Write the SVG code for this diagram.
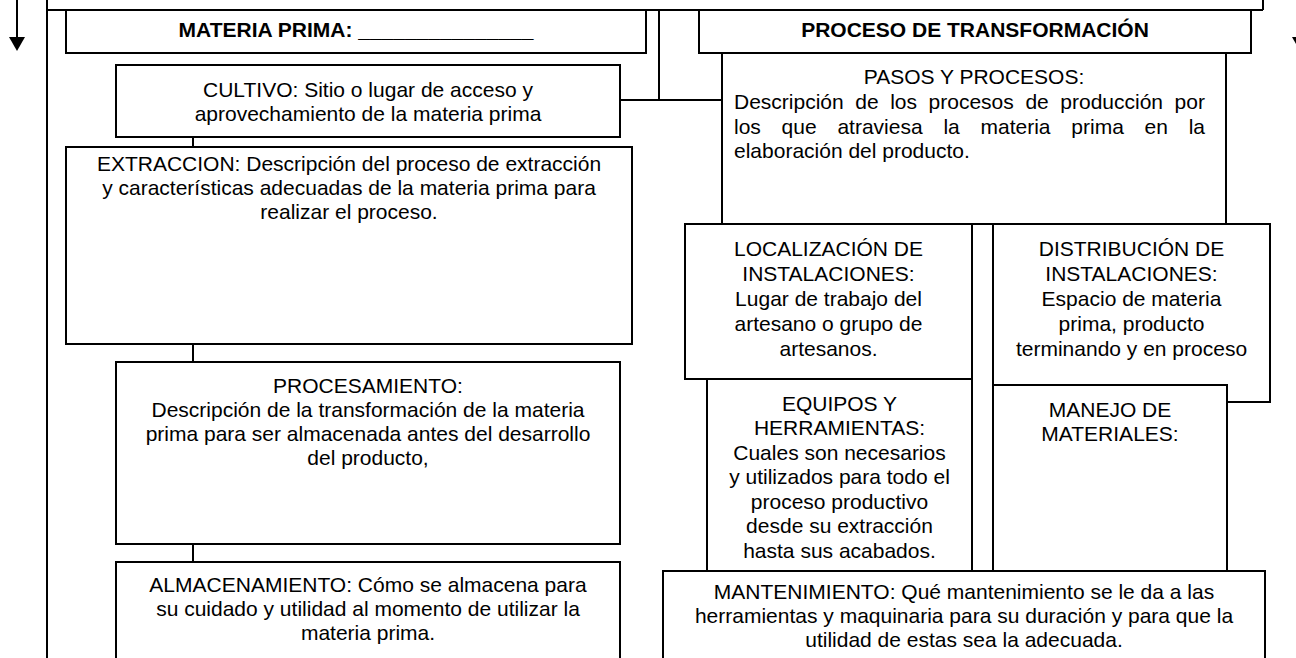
<svg xmlns="http://www.w3.org/2000/svg" width="1296" height="658" viewBox="0 0 1296 658">
<style>
.box{fill:#fff;stroke:#000;stroke-width:2}
.ln{fill:none;stroke:#000;stroke-width:2}
.t{font-family:"Liberation Sans",Arial,Helvetica,sans-serif;font-size:21px;fill:#000}
.c{text-anchor:middle}
.e{text-anchor:end}
.b{font-weight:bold}
</style>
<defs>
<marker id="ah" viewBox="0 0 14 16" refX="0" refY="8" markerWidth="14" markerHeight="16" markerUnits="userSpaceOnUse" orient="auto">
<path d="M0,0 L14,8 L0,16 z" fill="#000"/>
</marker>
</defs>
<rect width="1296" height="658" fill="#fff"/>

<g id="frame">
<path class="ln" d="M47,-5 V663 M47,10 H1263 M1263,-5 V10"/>
</g>

<g id="connectors">
<line class="ln" x1="17" y1="-5" x2="17" y2="37" marker-end="url(#ah)"/>
<line class="ln" x1="1300" y1="-5" x2="1300" y2="37" marker-end="url(#ah)"/>
<path class="ln" d="M659,10 V100 M620,100 H722"/>
<path class="ln" d="M193,137 V147 M193,344 V362 M193,544 V562"/>
</g>

<g id="materia-prima">
<rect class="box" x="66" y="10" width="580" height="43"/>
<text class="t c b" x="356" y="37">MATERIA PRIMA: _______________</text>
</g>

<g id="proceso-transformacion">
<rect class="box" x="699" y="10" width="552" height="43"/>
<text class="t c b" x="975" y="37">PROCESO DE TRANSFORMACIÓN</text>
</g>

<g id="cultivo">
<rect class="box" x="116" y="65" width="504" height="72"/>
<text class="t c" x="368" y="97">CULTIVO: Sitio o lugar de acceso y</text>
<text class="t c" x="368" y="121">aprovechamiento de la materia prima</text>
</g>

<g id="extraccion">
<rect class="box" x="66" y="147" width="566" height="197"/>
<text class="t c" x="349" y="171">EXTRACCION: Descripción del proceso de extracción</text>
<text class="t c" x="349" y="195">y características adecuadas de la materia prima para</text>
<text class="t c" x="349" y="219">realizar el proceso.</text>
</g>

<g id="procesamiento">
<rect class="box" x="116" y="362" width="504" height="182"/>
<text class="t c" x="368" y="393">PROCESAMIENTO:</text>
<text class="t c" x="368" y="417">Descripción de la transformación de la materia</text>
<text class="t c" x="368" y="441">prima para ser almacenada antes del desarrollo</text>
<text class="t c" x="368" y="465">del producto,</text>
</g>

<g id="almacenamiento">
<rect class="box" x="116" y="562" width="504" height="110"/>
<text class="t c" x="368" y="592">ALMACENAMIENTO: Cómo se almacena para</text>
<text class="t c" x="368" y="616">su cuidado y utilidad al momento de utilizar la</text>
<text class="t c" x="368" y="640">materia prima.</text>
</g>

<g id="pasos-procesos">
<rect class="box" x="722" y="53" width="504" height="171"/>
<text class="t c" x="974" y="84">PASOS Y PROCESOS:</text>
<text class="t"><tspan x="734" y="109">Descripción</tspan><tspan x="855.3" y="109">de</tspan><tspan x="890.2" y="109">los</tspan><tspan x="928.6" y="109">procesos</tspan><tspan x="1025.4" y="109">de</tspan><tspan x="1060.3" y="109">producción</tspan><tspan x="1174.6" y="109">por</tspan></text>
<text class="t"><tspan x="734" y="134">los</tspan><tspan x="781.6" y="134">que</tspan><tspan x="837.4" y="134">atraviesa</tspan><tspan x="943.4" y="134">la</tspan><tspan x="980.5" y="134">materia</tspan><tspan x="1071.3" y="134">prima</tspan><tspan x="1144.6" y="134">en</tspan><tspan x="1188.7" y="134">la</tspan></text>
<text class="t" x="734" y="158">elaboración del producto.</text>
</g>

<g id="localizacion">
<rect class="box" x="685" y="224" width="287" height="155"/>
<text class="t c" x="828.5" y="256">LOCALIZACIÓN DE</text>
<text class="t c" x="828.5" y="281">INSTALACIONES:</text>
<text class="t c" x="828.5" y="306">Lugar de trabajo del</text>
<text class="t c" x="828.5" y="331">artesano o grupo de</text>
<text class="t c" x="828.5" y="356">artesanos.</text>
</g>

<g id="distribucion">
<rect class="box" x="993" y="224" width="277" height="178"/>
<text class="t c" x="1131.5" y="256">DISTRIBUCIÓN DE</text>
<text class="t c" x="1131.5" y="281">INSTALACIONES:</text>
<text class="t c" x="1131.5" y="306">Espacio de materia</text>
<text class="t c" x="1131.5" y="331">prima, producto</text>
<text class="t c" x="1131.5" y="356">terminando y en proceso</text>
</g>

<g id="equipos">
<rect class="box" x="707" y="379" width="265" height="192"/>
<text class="t c" x="839.5" y="411">EQUIPOS Y</text>
<text class="t c" x="839.5" y="435">HERRAMIENTAS:</text>
<text class="t c" x="839.5" y="460">Cuales son necesarios</text>
<text class="t c" x="839.5" y="484">y utilizados para todo el</text>
<text class="t c" x="839.5" y="509">proceso productivo</text>
<text class="t c" x="839.5" y="533">desde su extracción</text>
<text class="t c" x="839.5" y="558">hasta sus acabados.</text>
</g>

<g id="manejo">
<rect class="box" x="993" y="385" width="234" height="186"/>
<text class="t c" x="1110" y="417">MANEJO DE</text>
<text class="t c" x="1110" y="441">MATERIALES:</text>
</g>

<g id="mantenimiento">
<rect class="box" x="663" y="571" width="602" height="100"/>
<text class="t c" x="964" y="599">MANTENIMIENTO: Qué mantenimiento se le da a las</text>
<text class="t c" x="964" y="623">herramientas y maquinaria para su duración y para que la</text>
<text class="t c" x="964" y="647">utilidad de estas sea la adecuada.</text>
</g>
</svg>
